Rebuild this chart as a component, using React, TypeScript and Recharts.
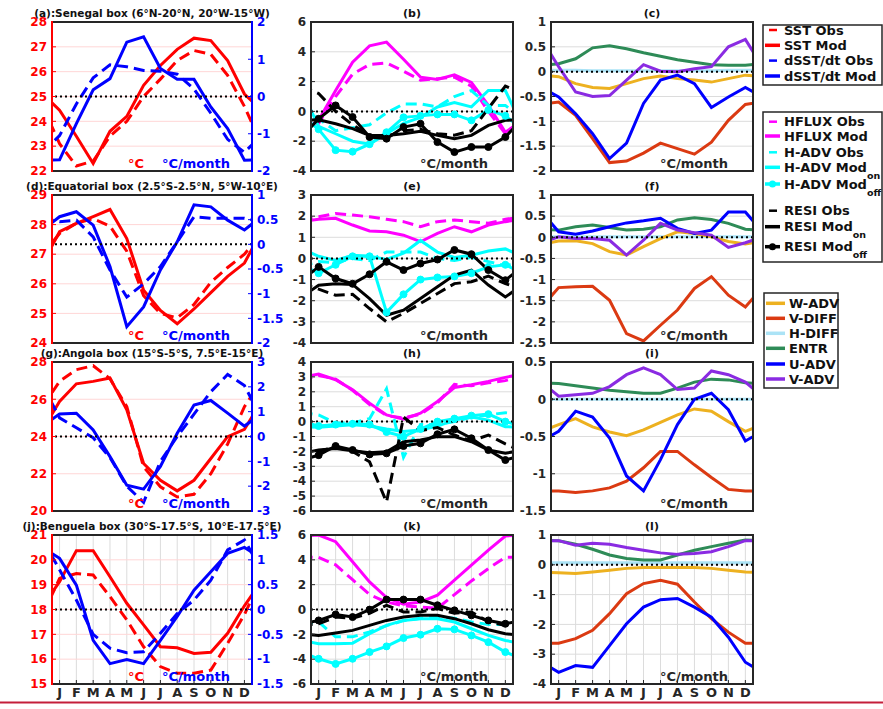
import React from "react";
import { LineChart, Line, XAxis, YAxis, CartesianGrid, ReferenceLine } from "recharts";

const FONT = "'DejaVu Sans', Verdana, sans-serif";
const INK = "#262626";
const GRID = "#dcdcdc";
const GRID_WARM = "#ffd6d6";

const MONTHS = ["J", "F", "M", "A", "M", "J", "J", "A", "S", "O", "N", "D"];
const MONTH_TICKS = [1, 2, 3, 4, 5, 6, 7, 8, 9, 10, 11, 12];
const X_DOMAIN: [number, number] = [0.55, 12.45];

const RED = "#ff0000";
const BLUE = "#0000ff";
const MAGENTA = "#ff00ff";
const CYAN = "#00ffff";
const BLACK = "#000000";
const W_ADV = "#EDB120";
const V_DIFF = "#DB3A12";
const H_DIFF = "#ABE3F6";
const ENTR = "#2E8B57";
const U_ADV = "#0000ff";
const V_ADV = "#8A2BE2";

// ---- SST (°C) and dSST/dt (°C/month), Jan..Dec ----
const senegalSstObs = [23.1, 22.2, 22.4, 23.4, 24.0, 25.0, 25.7, 26.45, 26.85, 26.7, 25.85, 24.6];
const senegalSstMod = [24.45, 23.4, 22.3, 23.6, 24.2, 25.45, 26.25, 26.9, 27.35, 27.25, 26.45, 25.1];
const senegalDsstObs = [-1.05, -0.2, 0.5, 0.85, 0.8, 0.7, 0.68, 0.6, 0.2, -0.45, -1.15, -1.5];
const senegalDsstMod = [-1.7, -0.73, 0.18, 0.48, 1.46, 1.6, 0.75, 0.46, 0.46, -0.28, -0.86, -1.71];

const equatorSstObs = [27.7, 28.05, 28.2, 27.95, 27.1, 25.6, 25.0, 24.85, 25.3, 26.05, 26.55, 27.0];
const equatorSstMod = [27.76, 28.04, 28.27, 28.51, 27.53, 25.78, 25.1, 24.65, 25.15, 25.7, 26.25, 26.7];
const equatorDsstObs = [0.46, 0.49, 0.15, -0.52, -1.07, -0.8, -0.45, 0.05, 0.56, 0.53, 0.53, 0.53];
const equatorDsstMod = [0.56, 0.66, 0.39, -0.45, -1.67, -1.27, -0.52, 0.05, 0.8, 0.76, 0.49, 0.29];

const angolaSstObs = [26.96, 27.59, 27.8, 27.1, 25.6, 22.37, 21.3, 20.75, 20.9, 22.0, 23.6, 25.6];
const angolaSstMod = [25.88, 26.83, 26.96, 27.14, 25.43, 22.55, 21.65, 21.08, 21.65, 22.82, 23.99, 24.38];
const angolaDsstObs = [0.75, 0.35, -0.05, -0.85, -2.0, -2.65, -1.0, 0.0, 0.9, 1.8, 2.5, 2.05];
const angolaDsstMod = [0.91, 0.94, 0.26, -0.81, -1.96, -2.12, -1.21, 0.13, 1.27, 1.45, 0.94, 0.42];

const benguelaSstObs = [19.25, 19.45, 19.39, 18.52, 17.58, 16.5, 15.7, 15.43, 15.43, 15.56, 16.64, 17.8];
const benguelaSstMod = [19.12, 20.37, 20.37, 19.32, 18.25, 17.38, 16.5, 16.46, 16.23, 16.28, 17.04, 18.15];
const benguelaDsstObs = [0.8, 0.19, -0.5, -0.78, -0.87, -0.85, -0.48, -0.08, 0.19, 0.59, 1.2, 1.4];
const benguelaDsstMod = [1.03, 0.49, -0.62, -1.09, -1.01, -1.09, -0.62, -0.14, 0.39, 0.76, 1.13, 1.25];

// ---- heat budget terms (°C/month) ----
const senegalHfluxObs = [-0.8, 1.0, 2.5, 3.15, 3.25, 2.7, 2.1, 2.2, 2.3, 1.7, 0.0, -1.5];
const senegalHfluxMod = [-0.6, 1.4, 3.3, 4.4, 4.65, 3.5, 2.3, 2.15, 2.45, 1.95, 0.4, -1.4];
const senegalHadvObs = [-0.5, -1.3, -1.1, -0.9, -0.1, 0.5, 0.5, 0.3, 1.0, 1.4, 0.4, 0.4];
const senegalHadvOn = [-1.0, -1.5, -2.0, -2.2, -1.5, -0.8, -0.4, 0.3, 0.6, 0.3, 1.4, 1.4];
const senegalHadvOff = [-1.2, -2.6, -2.7, -2.2, -1.4, -0.4, -0.3, -0.2, -0.2, -0.6, 0.1, -0.3];
const senegalResiObs = [1.2, 0.0, -0.9, -1.6, -1.7, -1.3, -1.2, -1.5, -1.6, -1.3, 0.2, 1.7];
const senegalResiOn = [-0.56, -0.83, -1.16, -1.61, -1.61, -1.5, -1.34, -1.61, -1.83, -1.61, -0.94, -0.6];
const senegalResiOff = [-0.5, 0.4, -0.38, -1.72, -1.83, -1.05, -0.83, -2.06, -2.73, -2.39, -2.39, -1.72];

const equatorHfluxObs = [1.97, 2.13, 2.05, 1.97, 1.85, 1.74, 1.5, 1.74, 1.82, 1.74, 1.66, 1.85];
const equatorHfluxMod = [1.85, 1.9, 1.58, 1.3, 1.26, 1.1, 0.79, 1.18, 1.5, 1.26, 1.58, 1.74];
const equatorHadvObs = [-0.15, -0.2, 0.0, -0.1, 0.3, 0.3, 0.3, 0.0, -0.1, 0.05, -0.15, -0.35];
const equatorHadvOn = [0.1, -0.1, 0.15, 0.1, -0.05, 0.25, 0.85, 0.3, 0.05, 0.15, 0.35, 0.45];
const equatorHadvOff = [-0.7, -0.3, 0.1, 0.1, -2.55, -1.7, -1.0, -0.9, -0.85, -0.7, -0.4, -0.3];
const equatorResiObs = [-1.45, -1.74, -1.7, -2.37, -3.0, -2.6, -2.13, -1.66, -1.19, -1.1, -0.84, -1.19];
const equatorResiOn = [-1.27, -1.2, -1.23, -1.9, -2.69, -2.45, -1.9, -1.34, -0.79, -0.55, -1.26, -1.82];
const equatorResiOff = [-0.4, -0.95, -1.2, -0.75, -0.16, -0.55, -0.24, -0.05, 0.4, 0.2, -0.55, -1.03];

const angolaHfluxObs = [3.1, 2.85, 2.1, 1.15, 0.4, 0.25, 0.5, 1.25, 2.5, 2.4, 2.6, 2.75];
const angolaHfluxMod = [3.19, 2.81, 2.13, 1.24, 0.45, 0.16, 0.56, 1.35, 2.29, 2.47, 2.7, 2.97];
const angolaHadvObs = [0.45, -0.1, -0.1, 0.2, 2.2, -2.4, -0.2, -0.2, 0.0, 0.3, 0.45, 0.6];
const angolaHadvOn = [-0.38, -0.3, -0.22, -0.3, -0.5, -0.67, -0.56, -0.3, 0.1, 0.3, 0.1, -0.34];
const angolaHadvOff = [-0.3, -0.2, -0.15, -0.2, -0.7, -1.0, -0.5, 0.0, 0.2, 0.4, 0.5, 0.0];
const angolaResiObs = [-2.0, -1.7, -2.0, -2.7, -5.4, 0.3, -0.6, -0.4, -0.9, -1.3, -0.9, -1.5];
const angolaResiOn = [-1.91, -1.8, -1.96, -2.09, -2.02, -1.35, -1.24, -1.01, -1.01, -1.35, -1.91, -2.13];
const angolaResiOff = [-2.25, -1.64, -1.91, -2.2, -2.13, -1.64, -1.46, -0.85, -0.52, -1.12, -1.91, -2.58];

const benguelaHfluxObs = [4.2, 3.6, 2.4, 1.2, 0.6, 0.3, 0.2, 0.1, 1.2, 2.3, 3.3, 4.2];
const benguelaHfluxMod = [6.0, 5.46, 3.84, 2.22, 0.96, 0.42, 0.61, 1.15, 2.36, 3.57, 4.79, 5.92];
const benguelaHadvObs = [-1.0, -2.2, -2.2, -1.8, -1.3, -0.9, -0.7, -0.6, -0.7, -1.0, -1.2, -1.2];
const benguelaHadvOn = [-2.76, -2.76, -2.71, -1.95, -1.28, -0.88, -0.74, -0.74, -1.01, -1.55, -2.09, -2.49];
const benguelaHadvOff = [-3.97, -4.38, -3.97, -3.43, -2.97, -2.3, -2.03, -1.55, -1.6, -2.09, -2.63, -3.43];
const benguelaResiObs = [-1.15, -0.61, -0.7, -0.3, 0.34, -0.2, -0.2, 0.07, -0.3, -0.2, -1.0, -1.28];
const benguelaResiOn = [-2.09, -1.9, -1.68, -1.28, -0.88, -0.61, -0.47, -0.47, -0.74, -1.15, -1.63, -1.95];
const benguelaResiOff = [-0.88, -0.4, -0.61, -0.01, 0.8, 0.8, 0.8, 0.34, -0.07, -0.47, -0.88, -1.15];

// ---- residual split (°C/month) ----
const senegalWAdv = [-0.1, -0.24, -0.32, -0.34, -0.24, -0.14, -0.09, -0.14, -0.17, -0.21, -0.14, -0.07];
const senegalVDiff = [-0.61, -0.88, -1.35, -1.83, -1.8, -1.64, -1.44, -1.55, -1.66, -1.42, -0.98, -0.66];
const senegalHDiff = [0.03, 0.03, 0.02, 0.02, 0.02, 0.02, 0.02, 0.02, 0.02, 0.02, 0.03, 0.03];
const senegalEntr = [0.16, 0.26, 0.48, 0.52, 0.46, 0.38, 0.31, 0.24, 0.19, 0.14, 0.13, 0.13];
const senegalUAdv = [-0.51, -0.85, -1.25, -1.75, -1.44, -0.64, -0.17, -0.07, -0.24, -0.72, -0.51, -0.32];
const senegalVAdv = [0.1, -0.41, -0.5, -0.48, -0.17, 0.14, 0.01, 0.0, 0.06, 0.1, 0.5, 0.65];

const equatorWAdv = [-0.09, -0.08, -0.15, -0.34, -0.42, -0.22, -0.03, 0.13, 0.09, 0.01, -0.1, -0.16];
const equatorVDiff = [-1.19, -1.17, -1.16, -1.49, -2.28, -2.45, -2.08, -1.72, -1.21, -0.93, -1.37, -1.65];
const equatorHDiff = [0.01, 0.01, 0.01, 0.01, 0.01, 0.01, 0.01, 0.01, 0.01, 0.01, 0.01, 0.01];
const equatorEntr = [0.17, 0.25, 0.29, 0.23, 0.17, 0.19, 0.25, 0.41, 0.46, 0.42, 0.33, 0.19];
const equatorUAdv = [0.13, 0.07, 0.15, 0.25, 0.34, 0.39, 0.45, 0.21, 0.09, 0.17, 0.6, 0.6];
const equatorVAdv = [0.01, -0.03, -0.03, -0.07, -0.42, -0.07, 0.33, 0.17, 0.11, 0.05, -0.24, -0.13];

const angolaWAdv = [-0.34, -0.26, -0.37, -0.44, -0.49, -0.41, -0.31, -0.21, -0.13, -0.16, -0.3, -0.43];
const angolaVDiff = [-1.23, -1.25, -1.23, -1.19, -1.1, -0.92, -0.7, -0.7, -0.88, -1.05, -1.21, -1.23];
const angolaHDiff = [0.0, 0.0, 0.0, 0.0, 0.0, 0.0, 0.0, 0.0, 0.0, 0.0, 0.0, 0.0];
const angolaEntr = [0.21, 0.18, 0.15, 0.12, 0.1, 0.08, 0.08, 0.15, 0.23, 0.27, 0.26, 0.22];
const angolaUAdv = [-0.43, -0.16, -0.24, -0.52, -1.03, -1.23, -0.81, -0.34, 0.0, 0.08, -0.14, -0.56];
const angolaVAdv = [0.04, 0.06, 0.08, 0.17, 0.33, 0.42, 0.33, 0.13, 0.15, 0.38, 0.33, 0.23];

const benguelaWAdv = [-0.27, -0.29, -0.24, -0.18, -0.12, -0.09, -0.09, -0.09, -0.09, -0.12, -0.18, -0.24];
const benguelaVDiff = [-2.63, -2.48, -2.2, -1.64, -0.97, -0.63, -0.52, -0.65, -1.25, -1.81, -2.26, -2.63];
const benguelaHDiff = [0.07, 0.07, 0.07, 0.07, 0.07, 0.07, 0.07, 0.07, 0.07, 0.07, 0.07, 0.07];
const benguelaEntr = [0.81, 0.69, 0.52, 0.33, 0.21, 0.16, 0.16, 0.33, 0.49, 0.61, 0.72, 0.83];
const benguelaUAdv = [-3.61, -3.38, -3.44, -2.71, -1.98, -1.42, -1.17, -1.13, -1.42, -1.76, -2.43, -3.27];
const benguelaVAdv = [0.81, 0.66, 0.72, 0.69, 0.58, 0.49, 0.4, 0.35, 0.38, 0.44, 0.61, 0.81];

// ---- panel titles ----
const SST_TITLES = [
  "(a):Senegal box (6°N-20°N, 20°W-15°W)",
  "(d):Equatorial box (2.5°S-2.5°N, 5°W-10°E)",
  "(g):Angola box (15°S-5°S, 7.5°E-15°E)",
  "(j):Benguela box (30°S-17.5°S, 10°E-17.5°E)",
];
const BUDGET_TITLES = ["(b)", "(e)", "(h)", "(k)"];
const RESI_TITLES = ["(c)", "(f)", "(i)", "(l)"];

// ---- axis scales ----
const SST_AXES = [
  { domain: [22, 28], ticks: [22, 23, 24, 25, 26, 27, 28] },
  { domain: [24, 29], ticks: [24, 25, 26, 27, 28, 29] },
  { domain: [20, 28], ticks: [20, 22, 24, 26, 28] },
  { domain: [15, 21], ticks: [15, 16, 17, 18, 19, 20, 21] },
];
const DSST_AXES = [
  { domain: [-2, 2], ticks: [-2, -1, 0, 1, 2] },
  { domain: [-2, 1], ticks: [-2, -1.5, -1, -0.5, 0, 0.5, 1] },
  { domain: [-3, 3], ticks: [-3, -2, -1, 0, 1, 2, 3] },
  { domain: [-1.5, 1.5], ticks: [-1.5, -1, -0.5, 0, 0.5, 1, 1.5] },
];
const BUDGET_AXES = [
  { domain: [-4, 6], ticks: [-4, -2, 0, 2, 4, 6] },
  { domain: [-4, 3], ticks: [-4, -3, -2, -1, 0, 1, 2, 3] },
  { domain: [-6, 4], ticks: [-6, -5, -4, -3, -2, -1, 0, 1, 2, 3, 4] },
  { domain: [-6, 6], ticks: [-6, -4, -2, 0, 2, 4, 6] },
];
const RESI_AXES = [
  { domain: [-2, 1], ticks: [-2, -1.5, -1, -0.5, 0, 0.5, 1] },
  { domain: [-2.5, 1], ticks: [-2.5, -2, -1.5, -1, -0.5, 0, 0.5, 1] },
  { domain: [-1.5, 0.5], ticks: [-1.5, -1, -0.5, 0, 0.5] },
  { domain: [-4, 1], ticks: [-4, -3, -2, -1, 0, 1] },
];

// plot frames on the page
const PLOT_X = [52, 311, 551];
const PLOT_W = [200, 202, 202];
const PLOT_Y = [22, 195, 362, 535];
const PLOT_H = [149, 148, 149, 149];

type Kind = "obs" | "mod" | "dot";
interface Curve {
  key: string;
  values: number[];
  color: string;
  kind: Kind;
  axis?: "left" | "right";
}
interface Scale {
  domain: number[];
  ticks: number[];
}

function sstCurves(sObs: number[], sMod: number[], dObs: number[], dMod: number[]): Curve[] {
  return [
    { key: "sstObs", values: sObs, color: RED, kind: "obs" },
    { key: "sstMod", values: sMod, color: RED, kind: "mod" },
    { key: "dsstObs", values: dObs, color: BLUE, kind: "obs", axis: "right" },
    { key: "dsstMod", values: dMod, color: BLUE, kind: "mod", axis: "right" },
  ];
}

function budgetCurves(v: number[][]): Curve[] {
  const [hfO, hfM, haO, haOn, haOff, reO, reOn, reOff] = v;
  return [
    { key: "hfluxObs", values: hfO, color: MAGENTA, kind: "obs" },
    { key: "hfluxMod", values: hfM, color: MAGENTA, kind: "mod" },
    { key: "hadvObs", values: haO, color: CYAN, kind: "obs" },
    { key: "hadvOn", values: haOn, color: CYAN, kind: "mod" },
    { key: "hadvOff", values: haOff, color: CYAN, kind: "dot" },
    { key: "resiObs", values: reO, color: BLACK, kind: "obs" },
    { key: "resiOn", values: reOn, color: BLACK, kind: "mod" },
    { key: "resiOff", values: reOff, color: BLACK, kind: "dot" },
  ];
}

function resiCurves(v: number[][]): Curve[] {
  const [w, vd, hd, en, u, va] = v;
  return [
    { key: "hDiff", values: hd, color: H_DIFF, kind: "mod" },
    { key: "entr", values: en, color: ENTR, kind: "mod" },
    { key: "wAdv", values: w, color: W_ADV, kind: "mod" },
    { key: "vDiff", values: vd, color: V_DIFF, kind: "mod" },
    { key: "uAdv", values: u, color: U_ADV, kind: "mod" },
    { key: "vAdv", values: va, color: V_ADV, kind: "mod" },
  ];
}

// December is repeated before January and January after December,
// so each annual cycle runs right up to the frame
function cycleRows(curves: Curve[]) {
  return Array.from({ length: 14 }, (_, m) => {
    const i = (m + 11) % 12;
    const row: Record<string, number> = { m };
    curves.forEach((c) => {
      row[c.key] = c.values[i];
    });
    return row;
  });
}

const tickFont = { fontFamily: FONT, fontSize: 12, fontWeight: 700 };

function Panel({
  col,
  row,
  curves,
  left,
  right,
}: {
  col: number;
  row: number;
  curves: Curve[];
  left: Scale;
  right?: Scale;
}) {
  const ML = 50;
  const MT = 6;
  const XH = 26;
  const x = PLOT_X[col];
  const y = PLOT_Y[row];
  const w = PLOT_W[col];
  const h = PLOT_H[row];
  const dual = !!right;
  const leftColor = dual ? RED : INK;
  const showMonths = row === 3;

  return (
    <div style={{ position: "absolute", left: x - ML, top: y - MT }}>
      <LineChart
        width={w + ML + 50}
        height={h + MT + XH}
        data={cycleRows(curves)}
        margin={{ top: MT, right: dual ? 0 : 50, bottom: 0, left: 0 }}
      >
        <CartesianGrid horizontal={false} stroke={GRID} strokeWidth={1} yAxisId="left" />
        <CartesianGrid vertical={false} stroke={dual ? GRID_WARM : GRID} strokeWidth={1} yAxisId="left" />
        <XAxis
          type="number"
          dataKey="m"
          domain={X_DOMAIN}
          allowDataOverflow
          ticks={MONTH_TICKS}
          interval={0}
          height={XH}
          axisLine={false}
          tickSize={-4}
          tickMargin={8}
          tickLine={{ stroke: INK }}
          tick={showMonths ? { ...tickFont, fontSize: 13, fill: INK } : false}
          tickFormatter={(v: number) => MONTHS[v - 1]}
        />
        <XAxis
          xAxisId="top"
          orientation="top"
          type="number"
          domain={X_DOMAIN}
          allowDataOverflow
          ticks={MONTH_TICKS}
          interval={0}
          height={0}
          axisLine={false}
          tickSize={-4}
          tickLine={{ stroke: INK }}
          tick={false}
        />
        <YAxis
          yAxisId="left"
          type="number"
          domain={left.domain}
          ticks={left.ticks}
          interval={0}
          allowDataOverflow
          width={ML}
          axisLine={false}
          tickSize={-4}
          tickMargin={9}
          tickLine={{ stroke: leftColor }}
          tick={{ ...tickFont, fill: leftColor }}
        />
        {right && (
          <YAxis
            yAxisId="right"
            orientation="right"
            type="number"
            domain={right.domain}
            ticks={right.ticks}
            interval={0}
            allowDataOverflow
            width={50}
            axisLine={false}
            tickSize={-4}
            tickMargin={9}
            tickLine={{ stroke: BLUE }}
            tick={{ ...tickFont, fill: BLUE }}
          />
        )}
        {curves.map((c) => (
          <Line
            key={c.key}
            yAxisId={c.axis ?? "left"}
            type="linear"
            dataKey={c.key}
            stroke={c.color}
            strokeWidth={3}
            strokeDasharray={c.kind === "obs" ? "11 6" : undefined}
            dot={c.kind === "dot" ? { r: 3.5, fill: c.color, stroke: c.color, strokeWidth: 1 } : false}
            activeDot={false}
            isAnimationActive={false}
          />
        ))}
        <ReferenceLine
          y={0}
          yAxisId={dual ? "right" : "left"}
          stroke={BLACK}
          strokeWidth={2}
          strokeDasharray="2 3"
        />
      </LineChart>
    </div>
  );
}

interface KeyRow {
  label: string;
  sub?: string;
  color: string;
  kind: Kind;
  cy: number;
}

const SST_KEY: KeyRow[] = [
  { label: "SST Obs", color: RED, kind: "obs", cy: 30 },
  { label: "SST Mod", color: RED, kind: "mod", cy: 45.3 },
  { label: "dSST/dt Obs", color: BLUE, kind: "obs", cy: 60.6 },
  { label: "dSST/dt Mod", color: BLUE, kind: "mod", cy: 76 },
];
const BUDGET_KEY: KeyRow[] = [
  { label: "HFLUX Obs", color: MAGENTA, kind: "obs", cy: 121.7 },
  { label: "HFLUX Mod", color: MAGENTA, kind: "mod", cy: 136 },
  { label: "H-ADV Obs", color: CYAN, kind: "obs", cy: 152.3 },
  { label: "H-ADV Mod", sub: "on", color: CYAN, kind: "mod", cy: 167.3 },
  { label: "H-ADV Mod", sub: "off", color: CYAN, kind: "dot", cy: 184 },
  { label: "RESI Obs", color: BLACK, kind: "obs", cy: 210.7 },
  { label: "RESI Mod", sub: "on", color: BLACK, kind: "mod", cy: 226.7 },
  { label: "RESI Mod", sub: "off", color: BLACK, kind: "dot", cy: 246.7 },
];
const RESI_KEY: KeyRow[] = [
  { label: "W-ADV", color: W_ADV, kind: "mod", cy: 303.3 },
  { label: "V-DIFF", color: V_DIFF, kind: "mod", cy: 318.3 },
  { label: "H-DIFF", color: H_DIFF, kind: "mod", cy: 333.3 },
  { label: "ENTR", color: ENTR, kind: "mod", cy: 348.3 },
  { label: "U-ADV", color: U_ADV, kind: "mod", cy: 364 },
  { label: "V-ADV", color: V_ADV, kind: "mod", cy: 379 },
];

function KeyBox({ x, y, w, h, rows, lineLen }: { x: number; y: number; w: number; h: number; rows: KeyRow[]; lineLen: number }) {
  return (
    <g>
      <rect x={x} y={y} width={w} height={h} fill="#fff" stroke={INK} strokeWidth={1.5} />
      {rows.map((r, i) => {
        const x0 = x + 2;
        const x1 = x0 + lineLen;
        const short = r.kind === "obs";
        return (
          <g key={i}>
            <line
              x1={short ? x0 + 4 : x0}
              x2={short ? x1 - 3 : x1}
              y1={r.cy}
              y2={r.cy}
              stroke={r.color}
              strokeWidth={r.kind === "obs" ? 2.5 : 3.5}
            />
            {r.kind === "dot" && <circle cx={(x0 + x1) / 2} cy={r.cy} r={3.5} fill={r.color} />}
            <text x={x1 + 4} y={r.cy + 4.6} fontFamily={FONT} fontWeight={700} fontSize={13} fill="#111">
              {r.label}
              {r.sub && (
                <tspan fontSize={9.5} dy={7}>
                  {r.sub}
                </tspan>
              )}
            </text>
          </g>
        );
      })}
    </g>
  );
}

function Overlay() {
  const label = { fontFamily: FONT, fontWeight: 700 } as const;
  return (
    <svg width={883} height={709} style={{ position: "absolute", left: 0, top: 0, pointerEvents: "none" }}>
      {PLOT_Y.map((py, r) =>
        PLOT_X.map((px, c) => {
          const pw = PLOT_W[c];
          const ph = PLOT_H[r];
          const title = c === 0 ? SST_TITLES[r] : c === 1 ? BUDGET_TITLES[r] : RESI_TITLES[r];
          return (
            <g key={`${r}-${c}`}>
              <line x1={px} x2={px + pw} y1={py} y2={py} stroke={INK} strokeWidth={2} />
              <line x1={px} x2={px + pw} y1={py + ph} y2={py + ph} stroke={INK} strokeWidth={2} />
              <line x1={px} x2={px} y1={py - 1} y2={py + ph + 1} stroke={c === 0 ? RED : INK} strokeWidth={2} />
              <line x1={px + pw} x2={px + pw} y1={py - 1} y2={py + ph + 1} stroke={c === 0 ? BLUE : INK} strokeWidth={2} />
              <text
                x={px + pw / 2}
                y={py - 9}
                textAnchor="middle"
                dominantBaseline="central"
                fontSize={c === 0 ? 10.5 : 11}
                fill="#111"
                {...label}
              >
                {title}
              </text>
              {c === 0 ? (
                <>
                  <text x={px + 76} y={py + ph - 8} dominantBaseline="central" fontSize={13} fill={RED} {...label}>
                    °C
                  </text>
                  <text x={px + 110} y={py + ph - 8} dominantBaseline="central" fontSize={13} fill={BLUE} {...label}>
                    °C/month
                  </text>
                </>
              ) : (
                <text x={px + 109} y={py + ph - 8} dominantBaseline="central" fontSize={13} fill={INK} {...label}>
                  °C/month
                </text>
              )}
            </g>
          );
        })
      )}
      <KeyBox x={763} y={25} w={119} h={60} rows={SST_KEY} lineLen={15} />
      <KeyBox x={763} y={112} w={119} h={150} rows={BUDGET_KEY} lineLen={15} />
      <KeyBox x={764} y={293} w={74} h={95} rows={RESI_KEY} lineLen={19} />
      <line x1={0} x2={883} y1={702.5} y2={702.5} stroke="#C41E3A" strokeWidth={2} />
    </svg>
  );
}

export default function App() {
  const sst = [
    sstCurves(senegalSstObs, senegalSstMod, senegalDsstObs, senegalDsstMod),
    sstCurves(equatorSstObs, equatorSstMod, equatorDsstObs, equatorDsstMod),
    sstCurves(angolaSstObs, angolaSstMod, angolaDsstObs, angolaDsstMod),
    sstCurves(benguelaSstObs, benguelaSstMod, benguelaDsstObs, benguelaDsstMod),
  ];
  const budget = [
    budgetCurves([senegalHfluxObs, senegalHfluxMod, senegalHadvObs, senegalHadvOn, senegalHadvOff, senegalResiObs, senegalResiOn, senegalResiOff]),
    budgetCurves([equatorHfluxObs, equatorHfluxMod, equatorHadvObs, equatorHadvOn, equatorHadvOff, equatorResiObs, equatorResiOn, equatorResiOff]),
    budgetCurves([angolaHfluxObs, angolaHfluxMod, angolaHadvObs, angolaHadvOn, angolaHadvOff, angolaResiObs, angolaResiOn, angolaResiOff]),
    budgetCurves([benguelaHfluxObs, benguelaHfluxMod, benguelaHadvObs, benguelaHadvOn, benguelaHadvOff, benguelaResiObs, benguelaResiOn, benguelaResiOff]),
  ];
  const resi = [
    resiCurves([senegalWAdv, senegalVDiff, senegalHDiff, senegalEntr, senegalUAdv, senegalVAdv]),
    resiCurves([equatorWAdv, equatorVDiff, equatorHDiff, equatorEntr, equatorUAdv, equatorVAdv]),
    resiCurves([angolaWAdv, angolaVDiff, angolaHDiff, angolaEntr, angolaUAdv, angolaVAdv]),
    resiCurves([benguelaWAdv, benguelaVDiff, benguelaHDiff, benguelaEntr, benguelaUAdv, benguelaVAdv]),
  ];

  return (
    <div
      style={{
        position: "absolute",
        left: 0,
        top: 0,
        width: 883,
        height: 709,
        background: "#fff",
        overflow: "hidden",
      }}
    >
      {[0, 1, 2, 3].map((r) => (
        <React.Fragment key={r}>
          <Panel col={0} row={r} curves={sst[r]} left={SST_AXES[r]} right={DSST_AXES[r]} />
          <Panel col={1} row={r} curves={budget[r]} left={BUDGET_AXES[r]} />
          <Panel col={2} row={r} curves={resi[r]} left={RESI_AXES[r]} />
        </React.Fragment>
      ))}
      <Overlay />
    </div>
  );
}
